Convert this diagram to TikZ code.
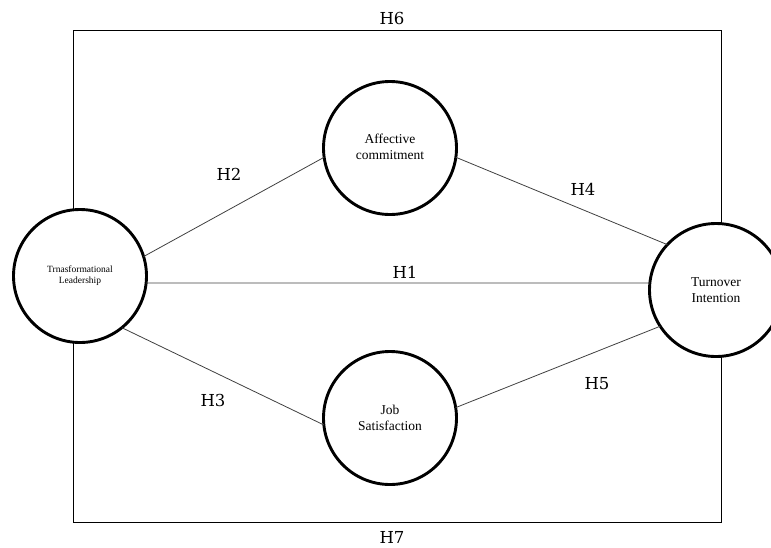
\documentclass[tikz,border=0pt]{standalone}
\usepackage{fontspec}
\setmainfont{Liberation Serif}
\newfontfamily\labfont{DejaVu Serif}
\newcommand{\uptext}[2]{\raisebox{#1}{\begin{tabular}{@{}c@{}}#2\end{tabular}}}
\begin{document}
\begin{tikzpicture}[x=1pt,y=-1pt,
  var/.style={circle,draw=black,line width=2.9pt,minimum size=133pt,inner sep=0pt,outer sep=0pt,align=center,font=\fontsize{13.5}{16}\selectfont},
  link/.style={draw=black!75,line width=0.8pt},
  box/.style={draw=black,line width=0.8pt},
  hyp/.style={font=\labfont\fontsize{16.5}{18}\selectfont,inner sep=0pt}]
\useasboundingbox (0,0) rectangle (771,547);
\clip (0,0) rectangle (771,547);
\node[var,font=\fontsize{9.5}{11}\selectfont] (L) at (80,276) {\uptext{10pt}{Trnasformational\\Leadership}};
\node[var] (A) at (390,148) {\uptext{7pt}{Affective\\commitment}};
\node[var] (J) at (390,418) {Job\\Satisfaction};
\node[var] (R) at (716,290) {Turnover\\Intention};
\coordinate (top) at (0,30);
\coordinate (bot) at (0,522);
\draw[box] (L.96) -- (L.96 |- top) -- (R.85 |- top) -- (R.85);
\draw[box] (L.264) -- (L.264 |- bot) -- (R.275 |- bot) -- (R.275);
\draw[link] (L.354) -- (R.174);
\draw[link] (L.17) -- (A.188);
\draw[link] (L.309) -- (J.186);
\draw[link] (A.352) -- (R.137);
\draw[link] (J.9) -- (R.213);
\node[hyp] (h6) at (392,18) {H6};
\node[hyp] (h7) at (392,537) {H7};
\node[hyp] (h2) at (229,174) {H2};
\node[hyp] (h4) at (583,189) {H4};
\node[hyp] (h1) at (405,272) {H1};
\node[hyp] (h3) at (213,400) {H3};
\node[hyp] (h5) at (597,384) {H5};
\end{tikzpicture}
\end{document}
